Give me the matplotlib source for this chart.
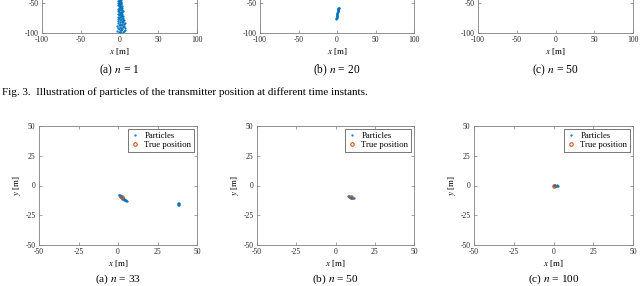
import matplotlib
matplotlib.use('Agg')
import matplotlib.pyplot as plt

# particle clouds (x, y in metres)
n1_x = [1.8, -1.2, 3.9, 0.4, 5.8, -2.9, 2.5, 7.2, 1.3, -0.6,
        3.3, 7.6, -1.8, 2.2, 4.9, 0.1, 4.3, -3.4, 6.3, 1.5,
        -0.9, 5.4, 2.8, 0.6, 6.7, -2.2, 3.6, 1.0, 4.6, -1.3,
        2.7, 6.0, 0.3, 4.0, -2.5, 1.9, 5.1, -0.4, 3.0, 1.2,
        -1.6, 3.7, 1.6, 4.5, -1.0, 2.4, 0.7, 3.4, -2.1, 2.1,
        0.0, 3.1, -0.7, 1.8, 4.2, -1.5, 0.9, 2.8, -0.3, 1.5,
        -2.4, 1.3, 3.3, -1.2, 0.4, 2.2, -0.6, 1.0, 2.7, -1.8,
        0.6, 1.6, -0.9, 0.3, 2.1, -1.3, 0.9, 1.5, -0.4, 1.2,
        -1.9, 0.1, 1.8, -0.7, 0.7, 1.3, -0.1, 0.4, -1.0, 0.9]
n1_y = [-99.6, -98.9, -98.3, -97.7, -97.0, -96.2, -95.6, -95.0, -94.3, -93.6,
        -92.9, -92.3, -91.6, -91.0, -90.2, -89.6, -88.9, -88.3, -87.6, -86.9,
        -86.3, -85.6, -84.9, -84.3, -83.6, -82.9, -82.2, -81.6, -80.9, -80.3,
        -79.6, -78.9, -78.3, -77.6, -76.9, -76.3, -75.6, -74.9, -74.3, -73.6,
        -72.9, -72.3, -71.6, -70.9, -70.3, -69.6, -68.9, -68.3, -67.6, -66.9,
        -66.3, -65.6, -64.9, -64.3, -63.6, -62.9, -62.3, -61.6, -60.9, -60.3,
        -59.6, -58.9, -58.3, -57.6, -56.9, -56.3, -55.6, -54.9, -54.3, -53.6,
        -52.9, -52.3, -51.6, -50.9, -50.3, -49.6, -48.9, -48.3, -47.6, -46.9,
        -46.3, -45.6, -44.9, -44.3, -43.6, -42.9, -42.3, -41.6, -40.9, -40.3]

n20_x = [-1.0, -0.6, -0.8, -0.3, -0.5, 0.0, -0.2, 0.3, 0.1, 0.6, 0.4,
         0.9, 0.7, 1.2, 1.0, 1.5, 1.3, 1.8, 1.6, 2.1, 1.9, 2.4]
n20_y = [-77.0, -75.8, -74.5, -73.6, -72.4, -71.5, -70.3, -69.4, -68.2, -67.3, -66.1,
         -65.2, -64.0, -63.1, -62.0, -61.2, -60.6, -59.8, -59.3, -58.7, -58.2, -57.6]

n50a_x = []  # top (c): no particles in the visible part
n50a_y = []

n33_x = [0.5, 0.9, 1.2, 1.0, 1.6, 1.9, 1.4, 2.2, 2.6, 2.3, 2.9, 3.2, 2.8, 3.5,
         3.8, 3.4, 4.1, 4.4, 4.0, 4.8, 5.3, 5.9,
         38.0, 38.4, 38.2, 38.6, 37.9, 38.3]
n33_y = [-7.6, -8.0, -8.4, -8.9, -8.7, -9.2, -9.5, -9.6, -9.9, -10.4, -10.2, -10.7, -11.0, -11.0,
         -11.4, -11.7, -11.6, -12.0, -12.3, -12.4, -12.8, -13.2,
         -14.4, -14.9, -15.4, -15.7, -16.0, -16.3]

n50_x = [8.0, 8.5, 9.0, 8.7, 9.4, 9.9, 10.3, 10.8, 11.2, 11.7, 9.6, 10.5]
n50_y = [-8.9, -9.1, -9.3, -9.6, -9.5, -9.9, -10.1, -10.4, -10.6, -10.9, -10.3, -9.7]

n100_x = [0.0, 0.4, 0.8, 1.2, 1.6, 2.0, 2.4, 2.9, 0.6, 1.4]
n100_y = [0.2, 0.0, -0.1, 0.1, -0.2, 0.0, 0.1, -0.1, 0.3, -0.3]

true_x = [2.5, 10.0, 0.5]
true_y = [-10.0, -10.0, 0.0]

top_ticks = [-100, -50, 0, 50, 100]
bot_ticks = [-50, -25, 0, 25, 50]
top_caps = ['(a) $n$ = 1', '(b) $n$ = 20', '(c) $n$ = 50']
bot_caps = ['(a) $n$ = 33', '(b) $n$ = 50', '(c) $n$ = 100']

plt.rcParams['font.family'] = 'Liberation Serif'
plt.rcParams['mathtext.fontset'] = 'stix'
plt.rcParams['axes.unicode_minus'] = False

blue = '#0072BD'
orange = '#D95319'
W, H = 640, 286

fig = plt.figure(figsize=(6.4, 2.86), dpi=100)


def style(ax, ticks):
    ax.set_xlim(ticks[0], ticks[-1])
    ax.set_ylim(ticks[0], ticks[-1])
    ax.set_xticks(ticks)
    ax.set_yticks(ticks)
    ax.tick_params(direction='in', length=2.5, width=0.5, labelsize=5.5, pad=2.5,
                   top=True, right=True, colors='#808080', labelcolor='#262626')
    for s in ax.spines.values():
        s.set_linewidth(0.6)
        s.set_color('#808080')
    ax.set_xlabel('$x$ [m]', fontsize=6.5, labelpad=1)


# top row (cut off at the top of the picture)
top_pos = [(42, 155), (260, 154), (478, 155)]
top_data = [(n1_x, n1_y), (n20_x, n20_y), (n50a_x, n50a_y)]
for (l, w), (px, py), cap in zip(top_pos, top_data, top_caps):
    ax = fig.add_axes([l / W, 1 - 33 / H, w / W, 120 / H])
    style(ax, top_ticks)
    # labels above the picture's top edge are not seen
    ax.set_yticklabels(['-100', '-50', '', '', ''])
    ax.plot(px, py, '.', color=blue, ms=1.2)
    fig.text((l + w / 2) / W, 1 - 70 / H, cap, fontsize=8.3, ha='center', va='center')

fig.text(2 / W, 1 - 92 / H,
         'Fig. 3.  Illustration of particles of the transmitter position at different time instants.',
         fontsize=7.9, va='center')

# bottom row
bot_pos = [(39, 158), (257, 157), (474, 159)]
bot_data = [(n33_x, n33_y), (n50_x, n50_y), (n100_x, n100_y)]
for i, ((l, w), (px, py), cap) in enumerate(zip(bot_pos, bot_data, bot_caps)):
    ax = fig.add_axes([l / W, 41 / H, w / W, 119 / H])
    style(ax, bot_ticks)
    ax.set_ylabel('$y$ [m]', fontsize=6.5, labelpad=1.5)
    ax.plot(px, py, '.', color=blue, ms=1.2, label='Particles')
    ax.plot(true_x[i], true_y[i], 'o', mfc='none', mec=orange, ms=2.5, mew=0.8,
            label='True position')
    leg = ax.legend(loc='upper right', fontsize=6.3, fancybox=False, edgecolor='#404040',
                    framealpha=1, handlelength=1, handletextpad=0.6, borderpad=0.3,
                    labelspacing=0.15, borderaxespad=0.35)
    leg.get_frame().set_linewidth(0.5)
    fig.text((l + w / 2) / W, 1 - 279.5 / H, cap, fontsize=8.2, ha='center', va='center')

fig.savefig('out.png', dpi=100)
